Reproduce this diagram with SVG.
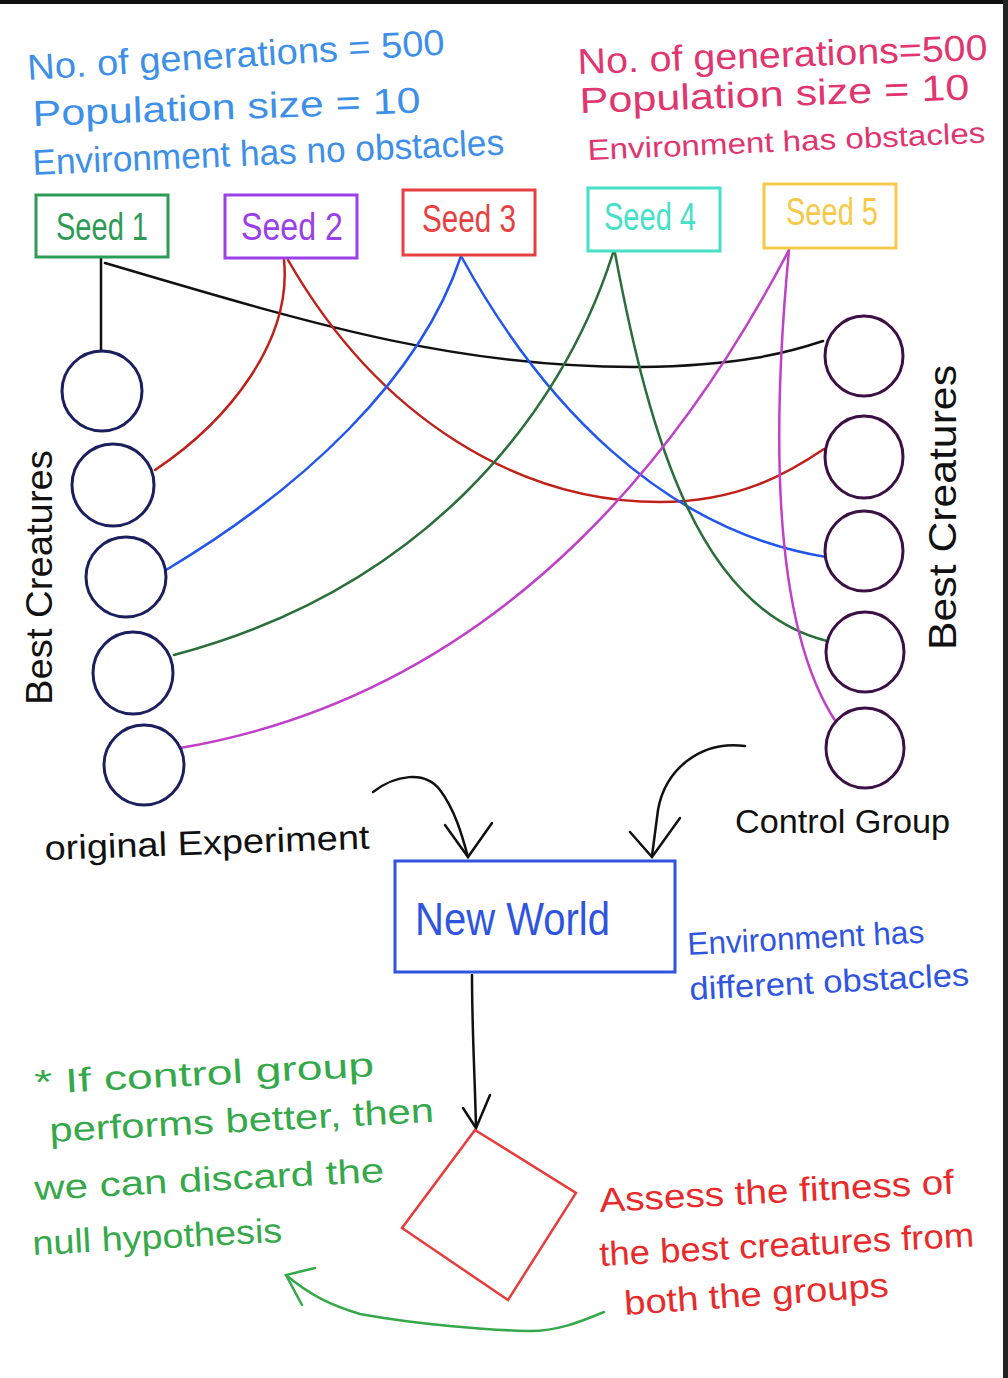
<svg xmlns="http://www.w3.org/2000/svg" width="1008" height="1378" viewBox="0 0 1008 1378">
<defs>
<style>
.t{font-family:"Liberation Sans","DejaVu Sans",sans-serif;}
.hb{fill:#3d8fe8;font-size:36px;}
.hp{fill:#e0356f;font-size:36px;}
.bk{fill:#111;font-size:34px;}
.box{fill:none;stroke-width:3;}
.lc{fill:none;stroke:#1b1f5e;stroke-width:3;}
.rc{fill:none;stroke:#3b1045;stroke-width:3;}
.c{fill:none;stroke-width:2.5;stroke-linecap:round;}
</style>
</defs>
<rect x="0" y="0" width="1008" height="1378" fill="#ffffff"/>
<rect x="0" y="0" width="1008" height="4" fill="#111"/>
<rect x="1003" y="0" width="5" height="1378" fill="#222"/>

<g id="notes-left">
<text class="t hb" x="28" y="80" textLength="418" lengthAdjust="spacingAndGlyphs" transform="rotate(-3.5 28 80)">No. of generations = 500</text>
<text class="t hb" x="33" y="126" textLength="388" lengthAdjust="spacingAndGlyphs" transform="rotate(-2 33 126)">Population size = 10</text>
<text class="t hb" x="33" y="175" textLength="472" lengthAdjust="spacingAndGlyphs" transform="rotate(-2.5 33 175)">Environment has no obstacles</text>
</g>
<g id="notes-right">
<text class="t hp" x="578" y="74" textLength="410" lengthAdjust="spacingAndGlyphs" transform="rotate(-2 578 74)">No. of generations=500</text>
<text class="t hp" x="580" y="113" textLength="390" lengthAdjust="spacingAndGlyphs" transform="rotate(-2 580 113)">Population size = 10</text>
<text class="t hp" style="font-size:29px" x="588" y="160" textLength="398" lengthAdjust="spacingAndGlyphs" transform="rotate(-2.5 588 160)">Environment has obstacles</text>
</g>

<g id="connectors">
<path class="c" stroke="#111" d="M101,257 L101,351"/>
<path class="c" stroke="#111" d="M105,263 C300,320 450,368 640,367 C740,366 790,352 823,341"/>
<path class="c" stroke="#c0201a" d="M284,260 C292,340 230,420 155,470"/>
<path class="c" stroke="#c0201a" d="M288,260 C380,420 520,502 660,502 C740,502 790,472 824,449"/>
<path class="c" stroke="#2255ee" d="M461,256 C420,380 300,490 166,570"/>
<path class="c" stroke="#2255ee" d="M461,256 C540,400 660,530 826,557"/>
<path class="c" stroke="#2a6e3a" d="M613,253 C560,420 420,590 174,655"/>
<path class="c" stroke="#2a6e3a" d="M615,253 C650,440 700,610 827,641"/>
<path class="c" stroke="#c040c8" d="M789,250 C700,420 520,690 180,748"/>
<path class="c" stroke="#c040c8" d="M789,250 C770,450 775,630 836,722"/>
<path class="c" stroke="#111" d="M373,792 C395,775 425,770 440,790 C455,810 462,835 468,857"/>
<path class="c" stroke="#111" d="M445,825 L468,857 L492,823"/>
<path class="c" stroke="#111" d="M745,746 C700,740 665,770 658,810 L652,856"/>
<path class="c" stroke="#111" d="M630,832 L652,857 L680,818"/>
<path class="c" stroke="#111" d="M472,975 C472,1030 475,1080 476,1128"/>
<path class="c" stroke="#111" d="M463,1108 L476,1128 L490,1095"/>
<path class="c" stroke="#35a84a" d="M604,1312 C580,1322 555,1332 527,1331 C490,1330 420,1325 360,1314 C330,1305 310,1295 286,1275"/>
<path class="c" stroke="#35a84a" d="M315,1268 L286,1275 L302,1305"/>
</g>

<g id="seed1"><rect class="box" stroke="#2d9b55" x="36" y="195" width="132" height="62"/><text class="t" fill="#2d9b55" font-size="38" x="102" y="240" text-anchor="middle" textLength="92" lengthAdjust="spacingAndGlyphs">Seed 1</text></g>
<g id="seed2"><rect class="box" stroke="#9a40e8" x="225" y="195" width="132" height="63"/><text class="t" fill="#9a40e8" font-size="38" x="292" y="240" text-anchor="middle" textLength="102" lengthAdjust="spacingAndGlyphs">Seed 2</text></g>
<g id="seed3"><rect class="box" stroke="#e84040" x="403" y="190" width="132" height="65"/><text class="t" fill="#e84040" font-size="38" x="469" y="232" text-anchor="middle" textLength="94" lengthAdjust="spacingAndGlyphs">Seed 3</text></g>
<g id="seed4"><rect class="box" stroke="#45e0c8" x="588" y="188" width="132" height="63"/><text class="t" fill="#45e0c8" font-size="38" x="650" y="230" text-anchor="middle" textLength="92" lengthAdjust="spacingAndGlyphs">Seed 4</text></g>
<g id="seed5"><rect class="box" stroke="#f7c948" x="764" y="184" width="132" height="64"/><text class="t" fill="#f7c948" font-size="38" x="832" y="225" text-anchor="middle" textLength="92" lengthAdjust="spacingAndGlyphs">Seed 5</text></g>

<g id="left-creatures">
<ellipse class="lc" cx="102" cy="391" rx="40" ry="40"/>
<ellipse class="lc" cx="113" cy="485" rx="41" ry="41"/>
<ellipse class="lc" cx="126" cy="577" rx="40" ry="40"/>
<ellipse class="lc" cx="133" cy="673" rx="40" ry="41"/>
<ellipse class="lc" cx="144" cy="765" rx="40" ry="40"/>
<text class="t bk" style="font-size:37px" x="0" y="0" textLength="255" lengthAdjust="spacingAndGlyphs" transform="translate(52 705) rotate(-90)">Best Creatures</text>
<text class="t bk" x="45" y="860" textLength="325" lengthAdjust="spacingAndGlyphs" transform="rotate(-2 45 860)">original Experiment</text>
</g>

<g id="right-creatures">
<ellipse class="rc" cx="864" cy="356" rx="39" ry="40"/>
<ellipse class="rc" cx="864" cy="457" rx="39" ry="41"/>
<ellipse class="rc" cx="864" cy="551" rx="39" ry="40"/>
<ellipse class="rc" cx="865" cy="652" rx="39" ry="40"/>
<ellipse class="rc" cx="865" cy="748" rx="39" ry="40"/>
<text class="t bk" style="font-size:39px" x="0" y="0" textLength="285" lengthAdjust="spacingAndGlyphs" transform="translate(956 650) rotate(-90)">Best Creatures</text>
<text class="t bk" x="735" y="833" textLength="215" lengthAdjust="spacingAndGlyphs">Control Group</text>
</g>

<g id="new-world">
<rect class="box" stroke="#2f55e0" x="395" y="861" width="280" height="111"/>
<text class="t" fill="#2f55e0" font-size="46" x="415" y="935" textLength="195" lengthAdjust="spacingAndGlyphs">New World</text>
<text class="t" fill="#2f55e0" font-size="32" x="688" y="955" textLength="237" lengthAdjust="spacingAndGlyphs" transform="rotate(-3 688 955)">Environment has</text>
<text class="t" fill="#2f55e0" font-size="32" x="690" y="1000" textLength="280" lengthAdjust="spacingAndGlyphs" transform="rotate(-3 690 1000)">different obstacles</text>
</g>

<g id="assess">
<polygon fill="none" stroke="#e83c3c" stroke-width="2.5" points="475,1130 576,1193 508,1300 402,1228"/>
<text class="t" fill="#e82a2a" font-size="34" x="600" y="1212" textLength="355" lengthAdjust="spacingAndGlyphs" transform="rotate(-3 600 1212)">Assess the fitness of</text>
<text class="t" fill="#e82a2a" font-size="34" x="600" y="1266" textLength="375" lengthAdjust="spacingAndGlyphs" transform="rotate(-3 600 1266)">the best creatures from</text>
<text class="t" fill="#e82a2a" font-size="34" x="625" y="1315" textLength="265" lengthAdjust="spacingAndGlyphs" transform="rotate(-4 625 1315)">both the groups</text>
</g>

<g id="conclusion">
<text class="t" fill="#35a84a" font-size="34" x="35" y="1094" textLength="340" lengthAdjust="spacingAndGlyphs" transform="rotate(-3 35 1094)">* If control group</text>
<text class="t" fill="#35a84a" font-size="34" x="50" y="1142" textLength="385" lengthAdjust="spacingAndGlyphs" transform="rotate(-3 50 1142)">performs better, then</text>
<text class="t" fill="#35a84a" font-size="34" x="35" y="1200" textLength="350" lengthAdjust="spacingAndGlyphs" transform="rotate(-3 35 1200)">we can discard the</text>
<text class="t" fill="#35a84a" font-size="34" x="33" y="1255" textLength="250" lengthAdjust="spacingAndGlyphs" transform="rotate(-3 33 1255)">null hypothesis</text>
</g>
</svg>
